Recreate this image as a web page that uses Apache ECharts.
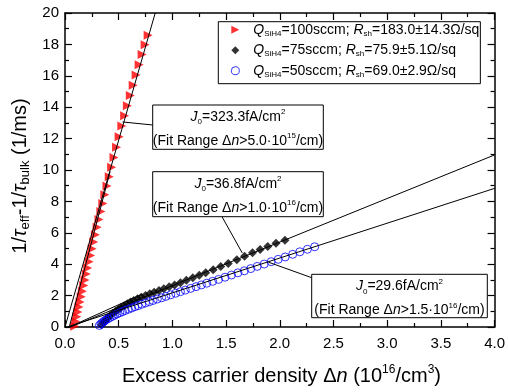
<!DOCTYPE html>
<html><head><meta charset="utf-8">
<script src="https://cdn.jsdelivr.net/npm/echarts@6/dist/echarts.min.js"></script>
<style>html,body{margin:0;padding:0;background:#fff}#c{width:508px;height:392px}</style>
</head><body><div id="c"></div>
<script>
// ---- data ----
const xTicks = ['0.0','0.5','1.0','1.5','2.0','2.5','3.0','3.5','4.0'];
const yTicks = ['0','2','4','6','8','10','12','14','16','18','20'];

const q100 = [[0.090,0.05],[0.100,0.35],[0.110,0.65],[0.120,0.95],[0.130,1.28],[0.140,1.60],[0.151,1.93],[0.162,2.28],[0.174,2.64],[0.186,3.00],[0.198,3.38],[0.211,3.76],[0.224,4.15],[0.238,4.56],[0.252,4.98],[0.267,5.42],[0.283,5.88],[0.299,6.35],[0.316,6.84],[0.334,7.35],[0.352,7.87],[0.371,8.42],[0.391,8.98],[0.412,9.57],[0.434,10.17],[0.456,10.80],[0.480,11.45],[0.504,12.12],[0.529,12.80],[0.555,13.45],[0.581,14.10],[0.608,14.75],[0.635,15.40],[0.662,16.05],[0.690,16.70],[0.718,17.35],[0.746,17.98],[0.774,18.58]];

const q75 = [[0.34,0.15],[0.36,0.30],[0.38,0.45],[0.40,0.59],[0.42,0.73],[0.445,0.87],[0.47,1.00],[0.495,1.12],[0.52,1.24],[0.55,1.36],[0.58,1.48],[0.61,1.59],[0.64,1.69],[0.675,1.80],[0.71,1.90],[0.75,2.01],[0.79,2.12],[0.83,2.22],[0.875,2.33],[0.92,2.44],[0.97,2.56],[1.02,2.68],[1.075,2.82],[1.13,2.97],[1.19,3.13],[1.25,3.29],[1.31,3.46],[1.38,3.65],[1.45,3.85],[1.52,4.05],[1.60,4.28],[1.672,4.50],[1.746,4.73],[1.817,4.93],[1.888,5.13],[1.965,5.33],[2.048,5.53]];

const q50 = [[0.32,0.10],[0.335,0.20],[0.35,0.29],[0.365,0.37],[0.38,0.45],[0.40,0.53],[0.42,0.61],[0.44,0.68],[0.46,0.75],[0.485,0.83],[0.51,0.91],[0.535,0.98],[0.56,1.05],[0.59,1.13],[0.62,1.21],[0.65,1.29],[0.68,1.36],[0.715,1.45],[0.75,1.53],[0.785,1.61],[0.82,1.69],[0.86,1.78],[0.90,1.86],[0.94,1.95],[0.985,2.05],[1.03,2.15],[1.075,2.25],[1.12,2.35],[1.17,2.46],[1.22,2.57],[1.27,2.68],[1.32,2.79],[1.375,2.91],[1.43,3.03],[1.49,3.17],[1.55,3.31],[1.61,3.45],[1.67,3.58],[1.73,3.72],[1.79,3.86],[1.855,4.01],[1.92,4.16],[1.985,4.31],[2.05,4.46],[2.12,4.63],[2.187,4.79],[2.257,4.95],[2.325,5.11]];

const fit100  = [[0,0],[0.84,20]];
const fit100b = [[0.04,0],[0.42,9.9]];
const fit75   = [[0.05,0],[4,10.96]];
const fit75b  = [[0.04,0],[0.72,2.1]];
const fit50   = [[0.02,0],[4,8.83]];

const legendText = {
  'q100': '{q0|Q}{sub|SiH4}{t|=100sccm; }{qi|R}{sub|sh}{t|=183.0±14.3Ω/sq}',
  'q75':  '{q0|Q}{sub|SiH4}{t|=75sccm; }{qi|R}{sub|sh}{t|=75.9±5.1Ω/sq}',
  'q50':  '{q0|Q}{sub|SiH4}{t|=50sccm; }{qi|R}{sub|sh}{t|=69.0±2.9Ω/sq}'
};
const calloutJ0   = ['323.3', '36.8', '29.6'];
const calloutFit  = [['5.0','15'], ['1.0','16'], ['1.5','16']];
// anchor points on the data (x, y in data units)
const calloutAnchor = [[0.536,13.06],[1.65,4.72],[1.894,4.13]];

// ---- layout ----
const FONT = 'Liberation Sans, Arial, sans-serif';
const boxes = [
  {x:152.7, y:105,   w:170.6, h:44.3, lx:152.7, ly:125},
  {x:152.7, y:171.7, w:170.6, h:45,   lx:222,   ly:216.7},
  {x:311.7, y:274.3, w:175.6, h:43.4, lx:311.7, ly:277.7}
];

const chart = echarts.init(document.getElementById('c'), null, {renderer:'canvas'});

const richBox = {
  t:  {fontSize:14, lineHeight:18, fontFamily:FONT, color:'#000'},
  i:  {fontSize:14, lineHeight:18, fontFamily:FONT, fontStyle:'italic', color:'#000'},
  sub:{fontSize:8, lineHeight:7.6, verticalAlign:'bottom', fontFamily:FONT, color:'#000'},
  sup:{fontSize:8, lineHeight:10.2, verticalAlign:'top', fontFamily:FONT, color:'#000'}
};
const richTitle = {
  m:  {fontSize:20, lineHeight:24, fontFamily:FONT, color:'#000'},
  mi: {fontSize:20, lineHeight:24, fontFamily:FONT, fontStyle:'italic', color:'#000'},
  sub:{fontSize:13, lineHeight:10, verticalAlign:'bottom', fontFamily:FONT, color:'#000'},
  sup:{fontSize:12, lineHeight:12, verticalAlign:'top', fontFamily:FONT, color:'#000'}
};

function axisCommon(extra){
  return Object.assign({
    axisLine:{show:true, onZero:false, lineStyle:{color:'#000', width:1.5}},
    axisTick:{show:true, inside:true, length:7, lineStyle:{color:'#000', width:1.2}},
    minorTick:{show:true, splitNumber:2, length:4, lineStyle:{color:'#000', width:1.2}},
    splitLine:{show:false},
    minorSplitLine:{show:false}
  }, extra);
}

function lineSeries(data){
  return {type:'line', data:data, showSymbol:false, symbol:'none', silent:true,
    lineStyle:{color:'#000', width:1}, z:5, clip:true, animation:false};
}

const option = {
  animation:false,
  grid:{left:65, right:10, top:13, bottom:65},
  xAxis:[
    axisCommon({type:'value', min:0, max:4, interval:0.5, position:'bottom',
      axisLabel:{show:true, margin:9, fontSize:15, fontFamily:FONT, color:'#000',
        formatter:(v)=>xTicks[Math.round(v/0.5)]}}),
    axisCommon({type:'value', min:0, max:4, interval:0.5, position:'top', axisLabel:{show:false}})
  ],
  yAxis:[
    axisCommon({type:'value', min:0, max:20, interval:2, position:'left',
      axisLabel:{show:true, margin:6, fontSize:15, fontFamily:FONT, color:'#000',
        formatter:(v)=>yTicks[Math.round(v/2)]}}),
    axisCommon({type:'value', min:0, max:20, interval:2, position:'right', axisLabel:{show:false}})
  ],
  legend:{
    show:true, orient:'vertical', left:218.3, top:21.7,
    padding:[1,1,5,12.5], itemGap:5.5, itemWidth:8, itemHeight:8,
    borderColor:'#000', borderWidth:1, backgroundColor:'#fff',
    selectedMode:false,
    data:[
      {name:'q100', icon:'path://M0,0L10,5L0,10Z', itemStyle:{color:'#ff0000', borderWidth:0}},
      {name:'q75', icon:'diamond', itemStyle:{color:'#000', borderWidth:0}},
      {name:'q50', icon:'path://M4,0A4,4,0,1,1,3.999,0Z', itemStyle:{color:'rgba(0,0,0,0)', borderColor:'#0000ff', borderWidth:1}}
    ],
    formatter:(n)=>legendText[n],
    textStyle:{fontSize:14, fontFamily:FONT, color:'#000',
      rich:{
        q0: {fontSize:14, lineHeight:16, fontStyle:'italic', fontFamily:FONT, padding:[0,0,0,9], color:'#000'},
        qi: {fontSize:14, lineHeight:16, fontStyle:'italic', fontFamily:FONT, color:'#000'},
        t:  {fontSize:14, lineHeight:16, fontFamily:FONT, color:'#000'},
        sub:{fontSize:8, lineHeight:6, verticalAlign:'bottom', fontFamily:FONT, color:'#000'}
      }}
  },
  series:[
    {name:'q75', type:'scatter', data:q75, symbol:'diamond', symbolSize:9,
      itemStyle:{color:'#000'}, z:2},
    {name:'q50', type:'scatter', data:q50, symbol:'circle', symbolSize:8,
      itemStyle:{color:'rgba(0,0,0,0)', borderColor:'#0000ff', borderWidth:1}, z:3},
    {name:'q100', type:'scatter', data:q100, symbol:'path://M0,0L10,5L0,10Z', symbolSize:[9,9],
      itemStyle:{color:'#ff0000'}, z:2},
    lineSeries(fit100), lineSeries(fit100b), lineSeries(fit75), lineSeries(fit75b), lineSeries(fit50)
  ]
};
chart.setOption(option);

// ---- annotations ----
const g = [];
boxes.forEach((b,k)=>{
  const p = chart.convertToPixel({gridIndex:0}, calloutAnchor[k]);
  g.push({type:'line', z:50, shape:{x1:p[0], y1:p[1], x2:b.lx, y2:b.ly}, style:{stroke:'#000', lineWidth:1}});
  g.push({type:'rect', z:60, shape:{x:b.x, y:b.y, width:b.w, height:b.h},
    style:{fill:'#fff', stroke:'#000', lineWidth:1}});
  g.push({type:'text', z:70, x:b.x+b.w/2, y:b.y+12,
    style:{text:'{i|J}{sub|0}{t|='+calloutJ0[k]+'fA/cm}{sup|2}', rich:richBox,
      align:'center', verticalAlign:'middle', fill:'#000'}});
  g.push({type:'text', z:70, x:b.x+b.w/2, y:b.y+36,
    style:{text:'{t|(Fit Range Δ}{i|n}{t|>'+calloutFit[k][0]+'·10}{sup|'+calloutFit[k][1]+'}{t|/cm)}', rich:richBox,
      align:'center', verticalAlign:'middle', fill:'#000'}});
});
// axis titles
g.push({type:'text', z:70, x:281.5, y:376,
  style:{text:'{m|Excess carrier density Δ}{mi|n}{m| (10}{sup|16}{m|/cm}{sup|3}{m|)}', rich:richTitle,
    align:'center', verticalAlign:'middle', fill:'#000'}});
g.push({type:'text', z:70, x:20, y:176, rotation:Math.PI/2,
  style:{text:'{m|1/}{mi|τ}{sub|eff}{m|-1/}{mi|τ}{sub|bulk}{m| (1/ms)}', rich:richTitle,
    align:'center', verticalAlign:'middle', fill:'#000'}});
chart.setOption({graphic:{elements:g}});
</script></body></html>
